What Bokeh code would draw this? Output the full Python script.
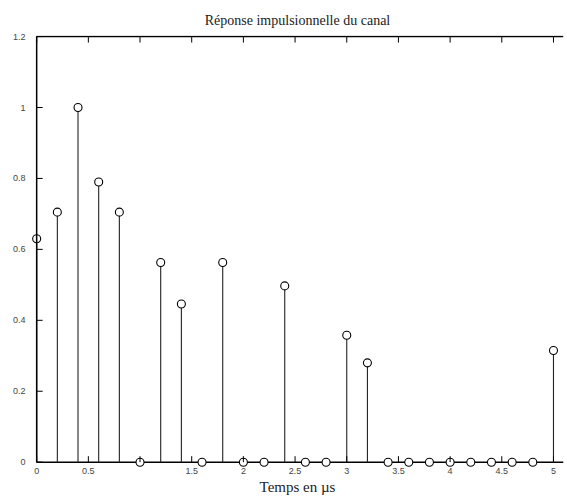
import math
from bokeh.plotting import figure
from bokeh.models import LinearAxis, Range1d, FixedTicker
from bokeh.embed import file_html
from bokeh.resources import INLINE

# data
temps = [0.0, 0.2, 0.4, 0.6, 0.8, 1.0, 1.2, 1.4, 1.6, 1.8, 2.0, 2.2, 2.4, 2.6,
         2.8, 3.0, 3.2, 3.4, 3.6, 3.8, 4.0, 4.2, 4.4, 4.6, 4.8, 5.0]
amplitude = [0.63, 0.705, 1.0, 0.79, 0.705, 0.0, 0.563, 0.446, 0.0, 0.563, 0.0, 0.0, 0.497, 0.0,
             0.0, 0.358, 0.28, 0.0, 0.0, 0.0, 0.0, 0.0, 0.0, 0.0, 0.0, 0.315]
x_ticks = [0, 0.5, 1, 1.5, 2, 2.5, 3, 3.5, 4, 4.5, 5]
x_labels = {0: "0", 0.5: "0.5", 1.5: "1.5", 2: "2", 2.5: "2.5", 3: "3",
            3.5: "3.5", 4: "4", 4.5: "4.5", 5: "5"}
y_ticks = [0, 0.2, 0.4, 0.6, 0.8, 1.0, 1.2]
y_labels = {0: "0", 0.2: "0.2", 0.4: "0.4", 0.6: "0.6", 0.8: "0.8", 1: "1", 1.2: "1.2"}

X_MIN, X_MAX = 0.0, 5.097
Y_MIN, Y_MAX = 0.0, 1.2

p = figure(width=567, height=497, output_backend="svg", toolbar_location=None,
           x_range=Range1d(-0.05, X_MAX), y_range=Range1d(-0.015, 1.203),
           x_axis_location=None, y_axis_location=None,
           min_border_left=31, min_border_right=4, min_border_top=35, min_border_bottom=29,
           title="Réponse impulsionnelle du canal")
p.title.align = "center"
p.title.text_font = "Liberation Serif"
p.title.text_font_style = "normal"
p.title.text_font_size = "14px"
p.title.text_color = "#222222"
p.title.offset = 0
p.title.standoff = 15
p.outline_line_color = None
p.xgrid.visible = False
p.ygrid.visible = False
p.background_fill_color = "white"
p.border_fill_color = "white"

label_font = "Liberation Sans"

# axes used only for their labels; lines and ticks drawn at the data origin below
bottom = LinearAxis(ticker=FixedTicker(ticks=list(x_labels.keys())),
                    major_label_overrides=x_labels)
bottom.axis_label = "Temps en µs"
bottom.axis_label_text_font = "Liberation Serif"
bottom.axis_label_text_font_style = "normal"
bottom.axis_label_text_font_size = "15px"
bottom.axis_label_text_color = "#222222"
bottom.axis_label_standoff = 2
bottom.major_label_standoff = 0
bottom.major_label_text_font = label_font
bottom.major_label_text_font_size = "9px"
bottom.major_label_text_color = "#444444"
bottom.major_tick_in = 0
bottom.major_tick_out = 0
bottom.minor_tick_in = 0
bottom.minor_tick_out = 0
bottom.axis_line_color = None
bottom.major_tick_line_color = None
p.add_layout(bottom, "below")

left = LinearAxis(ticker=FixedTicker(ticks=y_ticks), major_label_overrides=y_labels)
left.major_label_standoff = 6
left.major_label_text_font = label_font
left.major_label_text_font_size = "9px"
left.major_label_text_color = "#444444"
left.major_tick_in = 0
left.major_tick_out = 0
left.minor_tick_in = 0
left.minor_tick_out = 0
left.axis_line_color = None
left.major_tick_line_color = None
p.add_layout(left, "left")

# bottom axis line
p.segment(x0=[X_MIN], y0=[Y_MIN], x1=[X_MAX], y1=[Y_MIN], line_color="black", line_width=1.5)

# stems and markers
zeros = [0.0] * len(temps)
p.segment(x0=temps, y0=zeros, x1=temps, y1=amplitude, line_color="#222222", line_width=1.1)
p.scatter(temps, amplitude, marker="circle", size=8, fill_color="white",
          line_color="black", line_width=1.1)

# left and top frame lines
p.segment(x0=[X_MIN, X_MIN], y0=[Y_MIN, Y_MAX], x1=[X_MIN, X_MAX], y1=[Y_MAX, Y_MAX],
          line_color="black", line_width=1.5)

# inward ticks
p.ray(x=x_ticks, y=[Y_MIN] * len(x_ticks), length=6, length_units="screen",
      angle=math.pi / 2, line_color="black", line_width=1)
p.ray(x=x_ticks, y=[Y_MAX] * len(x_ticks), length=6, length_units="screen",
      angle=-math.pi / 2, line_color="black", line_width=1)
p.ray(x=[X_MIN] * len(y_ticks), y=y_ticks, length=6, length_units="screen",
      angle=0, line_color="black", line_width=1)

open("out.html", "w").write(file_html(p, INLINE))
